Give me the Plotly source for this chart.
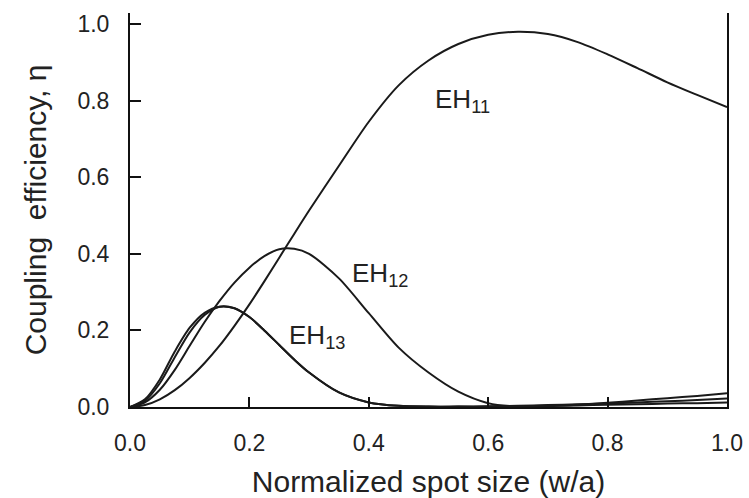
import plotly.graph_objects as go

# Normalized spot size w/a
spot = [0, 0.025, 0.05, 0.075, 0.1, 0.125, 0.15, 0.175, 0.2, 0.225, 0.25, 0.275, 0.3,
        0.35, 0.4, 0.45, 0.5, 0.55, 0.6, 0.65, 0.7, 0.75, 0.8, 0.85, 0.9, 0.95, 1.0]

# Coupling efficiency of each hybrid mode
eh11 = [0, 0.005, 0.02, 0.044, 0.076, 0.115, 0.16, 0.212, 0.268, 0.328, 0.39, 0.452, 0.513,
        0.63, 0.745, 0.84, 0.905, 0.948, 0.972, 0.98, 0.974, 0.953, 0.921, 0.885, 0.848, 0.815, 0.783]
eh12 = [0, 0.012, 0.045, 0.097, 0.16, 0.222, 0.277, 0.325, 0.364, 0.394, 0.412, 0.413, 0.4,
        0.336, 0.245, 0.155, 0.09, 0.04, 0.01, 0.001, 0.002, 0.006, 0.011, 0.017, 0.023, 0.029, 0.036]
eh13 = [0, 0.016, 0.062, 0.13, 0.195, 0.24, 0.262, 0.258, 0.235, 0.2, 0.162, 0.124, 0.09,
        0.038, 0.012, 0.003, 0.001, 0.001, 0.002, 0.003, 0.005, 0.007, 0.009, 0.012, 0.015, 0.018, 0.022]
# Unlabelled higher-order mode, running just above EH13 at small spot sizes
eh14 = [0, 0.02, 0.072, 0.145, 0.207, 0.246, 0.262, 0.258, 0.235, 0.2, 0.162, 0.124, 0.09,
        0.038, 0.012, 0.003, 0.001, 0.001, 0.001, 0.002, 0.003, 0.004, 0.006, 0.007, 0.009, 0.01, 0.012]

# Curve labels: (text, x, y)
labels = [("EH<sub>11</sub>", 0.557, 0.80),
          ("EH<sub>12</sub>", 0.418, 0.345),
          ("EH<sub>13</sub>", 0.314, 0.185)]

x_ticks = [0.0, 0.2, 0.4, 0.6, 0.8, 1.0]
y_ticks = [0.0, 0.2, 0.4, 0.6, 0.8, 1.0]

line_color = "#1a1a1a"
font_family = "Liberation Sans, Arial, sans-serif"

fig = go.Figure()
for ys in (eh11, eh12, eh13, eh14):
    fig.add_trace(go.Scatter(x=spot, y=ys, mode="lines",
                             line=dict(color=line_color, width=2, shape="spline", smoothing=0.8),
                             showlegend=False, hoverinfo="skip"))

for text, lx, ly in labels:
    fig.add_annotation(x=lx, y=ly, text=text, showarrow=False,
                       font=dict(family=font_family, size=26, color="#222"))

fig.update_layout(
    width=749, height=498,
    margin=dict(l=130, r=22, t=13, b=91),
    paper_bgcolor="white", plot_bgcolor="white",
    font=dict(family=font_family, color="#222"),
    xaxis=dict(range=[0, 1.0], tickvals=x_ticks, tickformat=".1f", automargin=False,
               ticks="inside", ticklen=10, tickwidth=2, tickcolor="#111",
               showline=True, linecolor="#111", linewidth=2, mirror=False,
               showgrid=False, zeroline=False,
               tickfont=dict(size=23, color="#222"), ticklabelstandoff=14,
               title=dict(text="Normalized spot size (w/a)", standoff=16,
                          font=dict(size=30, color="#222"))),
    yaxis=dict(range=[0, 1.029], tickvals=y_ticks, tickformat=".1f", automargin=False,
               ticks="inside", ticklen=11, tickwidth=2, tickcolor="#111",
               showline=True, linecolor="#111", linewidth=2, mirror=True,
               showgrid=False, zeroline=False,
               tickfont=dict(size=23, color="#222"), ticklabelstandoff=14,
               title=dict(text="Coupling  efficiency, η", standoff=22,
                          font=dict(size=30, color="#222"))),
)

fig.write_html("out.html")
